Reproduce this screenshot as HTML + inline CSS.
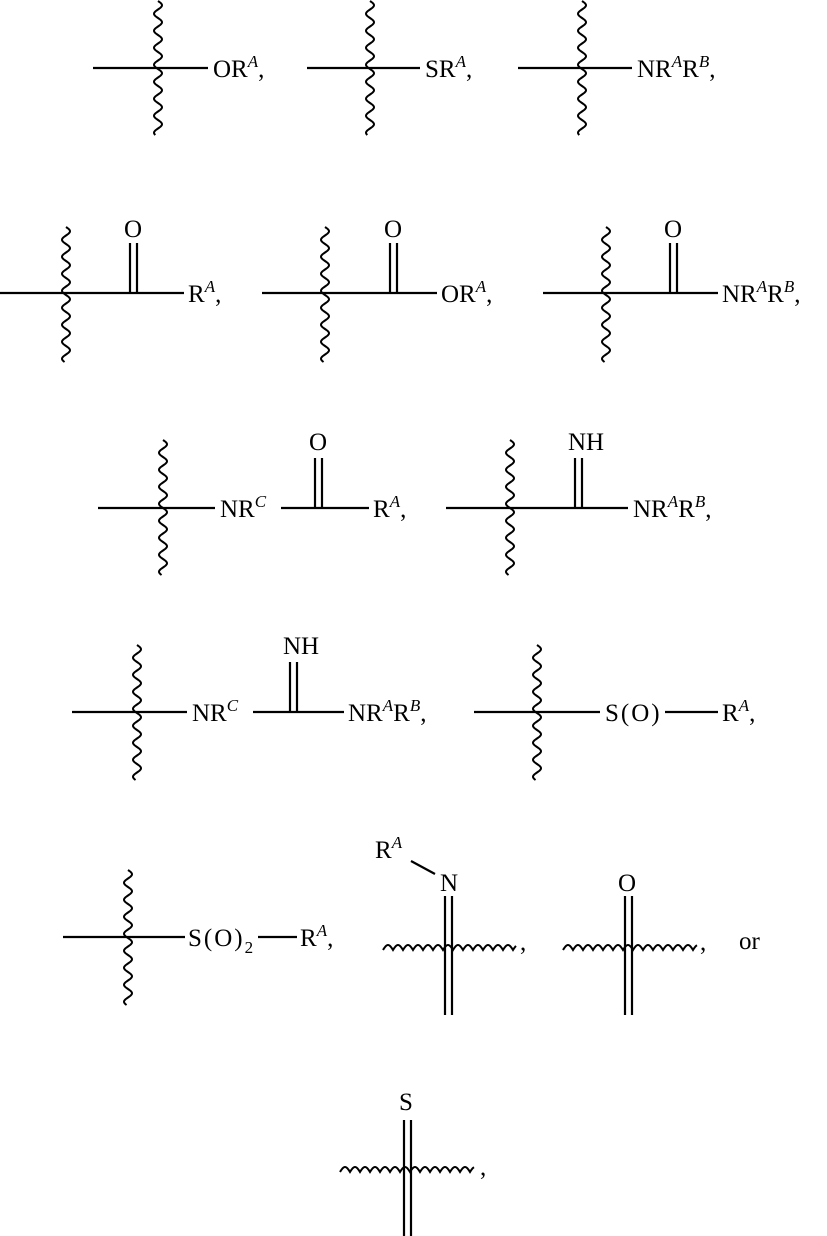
<!DOCTYPE html>
<html><head><meta charset="utf-8"><style>
html,body{margin:0;padding:0;background:#fff;}
svg{display:block;}
text{font-family:"Liberation Serif",serif;font-size:25px;fill:#000;}
.s{font-style:italic;font-size:17px;}
.w{letter-spacing:2px;}
</style></head><body>
<svg id="c" width="827" height="1236" viewBox="0 0 827 1236" xmlns="http://www.w3.org/2000/svg">
<g stroke="#000" stroke-width="2.2" fill="none">
<line x1="93" y1="68" x2="208" y2="68"/>
<line x1="307" y1="68" x2="420" y2="68"/>
<line x1="518" y1="68" x2="632" y2="68"/>
<line x1="0" y1="293" x2="184" y2="293"/>
<line x1="130" y1="243" x2="130" y2="293"/><line x1="137" y1="243" x2="137" y2="293"/>
<line x1="262" y1="293" x2="437" y2="293"/>
<line x1="390" y1="243" x2="390" y2="293"/><line x1="397" y1="243" x2="397" y2="293"/>
<line x1="543" y1="293" x2="718" y2="293"/>
<line x1="670" y1="243" x2="670" y2="293"/><line x1="677" y1="243" x2="677" y2="293"/>
<line x1="98" y1="508" x2="215" y2="508"/>
<line x1="281" y1="508" x2="369" y2="508"/>
<line x1="315" y1="458" x2="315" y2="508"/><line x1="322" y1="458" x2="322" y2="508"/>
<line x1="446" y1="508" x2="628" y2="508"/>
<line x1="575" y1="458" x2="575" y2="508"/><line x1="582" y1="458" x2="582" y2="508"/>
<line x1="72" y1="712" x2="187" y2="712"/>
<line x1="253" y1="712" x2="344" y2="712"/>
<line x1="290" y1="662" x2="290" y2="712"/><line x1="297" y1="662" x2="297" y2="712"/>
<line x1="474" y1="712" x2="600" y2="712"/>
<line x1="665" y1="712" x2="718" y2="712"/>
<line x1="63" y1="937" x2="185" y2="937"/>
<line x1="258" y1="937" x2="297" y2="937"/>
<line x1="445" y1="896" x2="445" y2="1015"/><line x1="452" y1="896" x2="452" y2="1015"/>
<line x1="411" y1="861" x2="435" y2="874"/>
<line x1="625" y1="896" x2="625" y2="1015"/><line x1="632" y1="896" x2="632" y2="1015"/>
<line x1="404" y1="1120" x2="404" y2="1236"/><line x1="411" y1="1120" x2="411" y2="1236"/>
</g>
<g id="wavy" stroke="#000" stroke-width="2" fill="none"></g>

<text x="213" y="77">OR<tspan class="s" dy="-10">A</tspan><tspan dy="10">,</tspan></text>
<text x="425" y="77">SR<tspan class="s" dy="-10">A</tspan><tspan dy="10">,</tspan></text>
<text x="637" y="77">NR<tspan class="s" dy="-10">A</tspan><tspan dy="10">R</tspan><tspan class="s" dy="-10">B</tspan><tspan dy="10">,</tspan></text>

<text x="124" y="237">O</text>
<text x="188" y="302">R<tspan class="s" dy="-10">A</tspan><tspan dy="10">,</tspan></text>
<text x="384" y="237">O</text>
<text x="441" y="302">OR<tspan class="s" dy="-10">A</tspan><tspan dy="10">,</tspan></text>
<text x="664" y="237">O</text>
<text x="722" y="302">NR<tspan class="s" dy="-10">A</tspan><tspan dy="10">R</tspan><tspan class="s" dy="-10">B</tspan><tspan dy="10">,</tspan></text>

<text x="220" y="517">NR<tspan class="s" dy="-10">C</tspan></text>
<text x="309" y="450">O</text>
<text x="373" y="517">R<tspan class="s" dy="-10">A</tspan><tspan dy="10">,</tspan></text>
<text x="568" y="450">NH</text>
<text x="633" y="517">NR<tspan class="s" dy="-10">A</tspan><tspan dy="10">R</tspan><tspan class="s" dy="-10">B</tspan><tspan dy="10">,</tspan></text>

<text x="192" y="721">NR<tspan class="s" dy="-10">C</tspan></text>
<text x="283" y="654">NH</text>
<text x="348" y="721">NR<tspan class="s" dy="-10">A</tspan><tspan dy="10">R</tspan><tspan class="s" dy="-10">B</tspan><tspan dy="10">,</tspan></text>
<text x="605" y="721" class="w">S(O)</text>
<text x="722" y="721">R<tspan class="s" dy="-10">A</tspan><tspan dy="10">,</tspan></text>

<text x="188" y="946" class="w">S(O)<tspan style="font-size:17px" dy="7">2</tspan></text>
<text x="300" y="946">R<tspan class="s" dy="-10">A</tspan><tspan dy="10">,</tspan></text>
<text x="375" y="858">R<tspan class="s" dy="-10">A</tspan></text>
<text x="440" y="891">N</text>
<text x="520" y="950">,</text>
<text x="618" y="891">O</text>
<text x="700" y="950">,</text>
<text x="739" y="949">or</text>

<text x="399" y="1110">S</text>
<text x="480" y="1175">,</text>
</svg>
<script>
var g=document.getElementById('wavy');
function vw(x,y1,y2){var d='M'+x+' '+y1;for(var y=y1;y<=y2;y+=0.5){d+=' L'+(x+4*Math.sin((y-y1)/17*2*Math.PI)).toFixed(2)+' '+y;}add(d);}
function hw(y,x1,x2){var d='M'+x1+' '+(y+2);for(var x=x1;x<=x2;x+=0.5){d+=' L'+x+' '+(y+2-5*Math.abs(Math.sin((x-x1)/10*Math.PI))).toFixed(2);}add(d);}
function add(d){var p=document.createElementNS('http://www.w3.org/2000/svg','path');p.setAttribute('d',d);g.appendChild(p);}
vw(158,1,135);vw(370,1,135);vw(582,1,135);
vw(66,227,362);vw(325,227,362);vw(606,227,362);
vw(163,440,575);vw(510,440,575);
vw(137,645,780);vw(537,645,780);
vw(128,870,1005);
hw(948,383,516);hw(948,563,697);hw(1170,340,474);
</script>
</body></html>
